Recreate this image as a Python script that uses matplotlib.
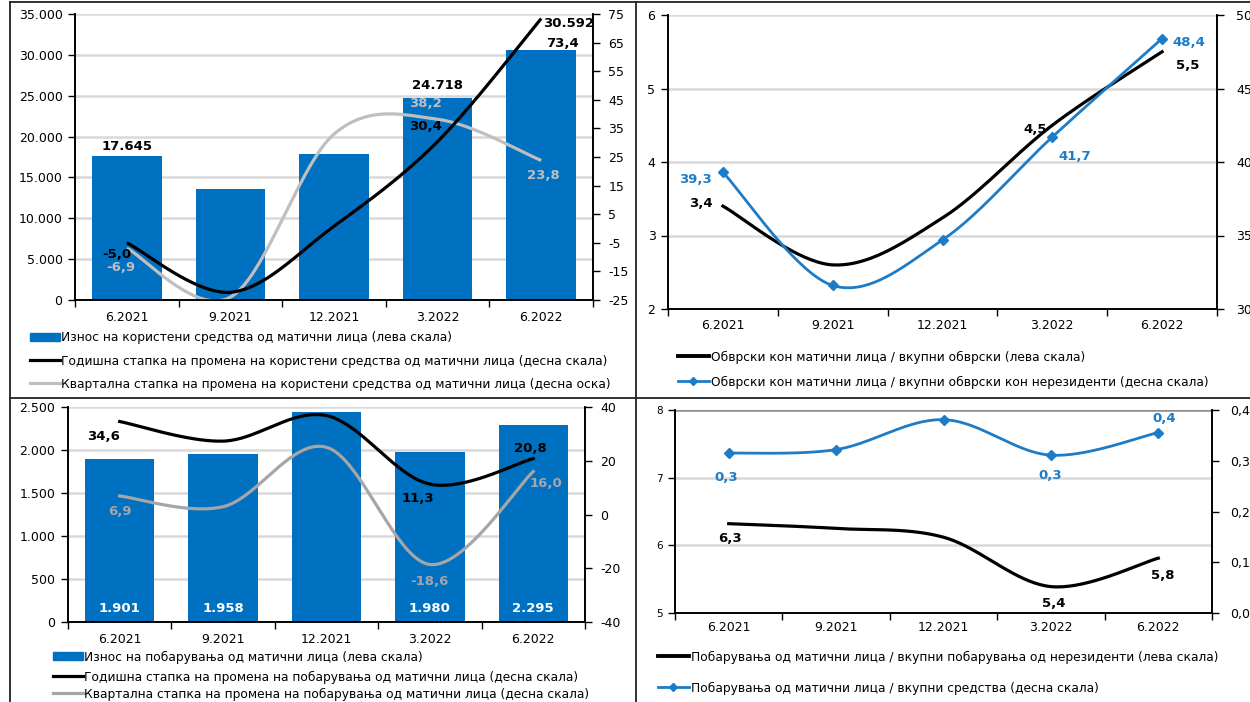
import numpy as np
import matplotlib
matplotlib.use("Agg")
import matplotlib.pyplot as plt
from matplotlib.lines import Line2D
from matplotlib.patches import Patch

plt.rcParams['font.family'] = ['DejaVu Sans']

# ---------------- data ----------------
periods = ["6.2021", "9.2021", "12.2021", "3.2022", "6.2022"]

# Panel 1: funds used from parent entities
used_amount = [17645, 13550, 17830, 24718, 30592]
used_annual = [-5.0, -22.3, 0.8, 30.4, 73.4]
used_quarterly = [-6.9, -24.0, 33.0, 38.2, 23.8]

# Panel 2: liabilities to parent entities
liab_share_total = [3.4, 2.6, 3.24, 4.5, 5.5]
liab_share_nonres = [39.3, 31.6, 34.7, 41.7, 48.4]

# Panel 3: claims on parent entities
claims_amount = [1901, 1958, 2440, 1980, 2295]
claims_annual = [34.6, 27.3, 36.8, 11.3, 20.8]
claims_quarterly = [6.9, 2.9, 25.0, -18.6, 16.0]

# Panel 4: claims shares
claims_share_nonres = [6.32, 6.25, 6.12, 5.39, 5.81]
claims_share_assets = [0.315, 0.322, 0.381, 0.311, 0.3555]

legend1 = ["Износ на користени средства од матични лица (лева скала)",
           "Годишна стапка на промена на користени средства од матични лица (десна скала)",
           "Квартална стапка на промена на користени средства од матични лица (десна оска)"]
legend2 = ["Обврски кон матични лица / вкупни обврски (лева скала)",
           "Обврски кон матични лица / вкупни обврски кон нерезиденти (десна скала)"]
legend3 = ["Износ на побарувања од матични лица (лева скала)",
           "Годишна стапка на промена на побарувања од матични лица (десна скала)",
           "Квартална стапка на промена на побарувања од матични лица (десна скала)"]
legend4 = ["Побарувања од матични лица / вкупни побарувања од нерезиденти (лева скала)",
           "Побарувања од матични лица / вкупни средства (десна скала)"]

# ---------------- style ----------------
W, H = 1250, 702
BLUE = "#0070C0"
LBLUE = "#1C7CC7"
GREY1 = "#BFBFBF"
GREY2 = "#A6A6A6"
GRID = "#D9D9D9"
FS = 9.0
LFS = 8.85

fig = plt.figure(figsize=(W / 100, H / 100), dpi=100)


def rect(l, t, r, b):
    return [l / W, 1 - b / H, (r - l) / W, (b - t) / H]


def smooth(vals, n=40):
    """Excel-style smoothed line through the points (cubic Bezier segments)."""
    pts = np.column_stack([np.arange(len(vals), dtype=float), np.asarray(vals, float)])
    out = []
    t = np.linspace(0, 1, n)[:, None]
    for i in range(len(pts) - 1):
        p0 = pts[max(i - 1, 0)]
        p1 = pts[i]
        p2 = pts[i + 1]
        p3 = pts[min(i + 2, len(pts) - 1)]
        c1 = p1 + (p2 - p0) / 6
        c2 = p2 - (p3 - p1) / 6
        seg = (1 - t) ** 3 * p1 + 3 * (1 - t) ** 2 * t * c1 + 3 * (1 - t) * t ** 2 * c2 + t ** 3 * p2
        out.append(seg if i == 0 else seg[1:])
    s = np.vstack(out)
    return s[:, 0], s[:, 1]


def fmt1(v):
    return f"{v:.1f}".replace(".", ",")


def fmt_th(v):
    return f"{v:,.0f}".replace(",", ".")


def label(ax, i, v, text, dx, dy, color):
    # dx, dy in pixels; positive dy moves the label downwards
    ax.annotate(text, xy=(i, v), xytext=(dx, -dy), textcoords="offset pixels",
                ha="center", va="center", fontsize=FS + 0.5, fontweight="bold",
                color=color, zorder=10)


def style_axes(ax, ax2, left_fmt, right_fmt, ylim, ylim2, lticks, rticks,
               lfs=FS, xpad=9, rpad=6):
    ax.set_xlim(-0.5, 4.5)
    ax.set_ylim(*ylim)
    ax2.set_ylim(*ylim2)
    ax.set_yticks(lticks)
    ax.set_yticklabels([left_fmt(v) for v in lticks], fontsize=lfs)
    ax2.set_yticks(rticks)
    ax2.set_yticklabels([right_fmt(v) for v in rticks], fontsize=FS)
    ax.set_xticks(range(5))
    ax.set_xticklabels(periods, fontsize=FS)
    ax.set_xticks(np.arange(-0.5, 5, 1), minor=True)
    ax.tick_params(axis="x", which="major", length=0, pad=xpad)
    ax.tick_params(axis="x", which="minor", length=5, width=1, direction="out")
    ax.tick_params(axis="y", length=5, width=1, direction="out", pad=4)
    ax2.tick_params(axis="y", length=5, width=1, direction="out", pad=rpad)
    ax.yaxis.grid(True, color=GRID, lw=1.8)
    ax.set_axisbelow(True)
    for a in (ax, ax2):
        a.spines["top"].set_visible(False)
        for s in ("left", "right", "bottom"):
            a.spines[s].set_color("black")
            a.spines[s].set_linewidth(1.2)
    ax.patch.set_visible(False)


def legend_entry(handle, text, x, y, hl=2.4):
    fig.legend([handle], [text], loc="center left",
               bbox_to_anchor=(x / W, 1 - y / H), bbox_transform=fig.transFigure,
               frameon=False, fontsize=LFS, handlelength=hl, handleheight=0.6,
               handletextpad=0.15, borderpad=0, borderaxespad=0)


x = np.arange(5)

# ---------------- panel 1 ----------------
ax1 = fig.add_axes(rect(75, 14, 593, 300))
ax1b = ax1.twinx()
ax1.bar(x, used_amount, width=0.67, color=BLUE, zorder=2)
ax1b.plot(*smooth(used_quarterly), color=GREY1, lw=2.3, solid_capstyle="butt")
ax1b.plot(*smooth(used_annual), color="black", lw=2.3, solid_capstyle="butt")
style_axes(ax1, ax1b, fmt_th, lambda v: f"{v:d}", (0, 35000), (-25, 75),
           list(range(0, 35001, 5000)), list(range(-25, 76, 10)), xpad=8)
for i, dx, dy in [(0, 0, -9), (3, 0, -13), (4, 27, -27)]:
    label(ax1, i, used_amount[i], fmt_th(used_amount[i]), dx, dy, "black")
for i, dx, dy in [(0, -10, 12), (3, -12, -15), (4, 21, 25)]:
    label(ax1b, i, used_annual[i], fmt1(used_annual[i]), dx, dy, "black")
for i, dx, dy in [(0, -6, 19), (3, -12, -16), (4, 2, 15)]:
    label(ax1b, i, used_quarterly[i], fmt1(used_quarterly[i]), dx, dy, GREY1)

legend_entry(Patch(color=BLUE), legend1[0], 30, 338)
legend_entry(Line2D([], [], color="black", lw=2.3), legend1[1], 30, 361)
legend_entry(Line2D([], [], color=GREY1, lw=2.3), legend1[2], 30, 384)

# ---------------- panel 2 ----------------
ax2 = fig.add_axes(rect(668, 15, 1217, 309))
ax2b = ax2.twinx()
ax2.plot(*smooth(liab_share_total), color="black", lw=2.3)
ax2b.plot(*smooth(liab_share_nonres), color=LBLUE, lw=2.0)
ax2b.plot(x, liab_share_nonres, ls="none", marker="D", ms=5, color=LBLUE)
style_axes(ax2, ax2b, lambda v: f"{v:d}", lambda v: f"{v:d}", (2, 6), (30, 50),
           [2, 3, 4, 5, 6], [30, 35, 40, 45, 50], xpad=7, rpad=9)
for i, dx, dy in [(0, -22, -3), (3, -17, 4), (4, 26, 14)]:
    label(ax2, i, liab_share_total[i], fmt1(liab_share_total[i]), dx, dy, "black")
for i, dx, dy in [(0, -27, 7), (3, 22, 19), (4, 27, 4)]:
    label(ax2b, i, liab_share_nonres[i], fmt1(liab_share_nonres[i]), dx, dy, LBLUE)

legend_entry(Line2D([], [], color="black", lw=2.8), legend2[0], 678, 357, hl=2.5)
legend_entry(Line2D([], [], color=LBLUE, lw=2.0, marker="D", ms=4), legend2[1], 678, 382, hl=2.5)

# ---------------- panel 3 ----------------
ax3 = fig.add_axes(rect(68, 407, 585, 622))
ax3b = ax3.twinx()
ax3.bar(x, claims_amount, width=0.67, color=BLUE, zorder=2)
ax3b.plot(*smooth(claims_quarterly), color=GREY2, lw=2.3)
ax3b.plot(*smooth(claims_annual), color="black", lw=2.3)
style_axes(ax3, ax3b, fmt_th, lambda v: f"{v:d}", (0, 2500), (-40, 40),
           list(range(0, 2501, 500)), [-40, -20, 0, 20, 40], xpad=8)
for i in [0, 1, 3, 4]:
    ax3.annotate(fmt_th(claims_amount[i]), xy=(i, 0), xytext=(0, 13),
                 textcoords="offset pixels", ha="center", va="center",
                 fontsize=FS + 0.5, fontweight="bold", color="white", zorder=10)
for i, dx, dy in [(0, -16, 15), (3, -12, 14), (4, -3, -10)]:
    label(ax3b, i, claims_annual[i], fmt1(claims_annual[i]), dx, dy, "black")
for i, dx, dy in [(0, 0, 16), (3, 0, 17), (4, 13, 12)]:
    label(ax3b, i, claims_quarterly[i], fmt1(claims_quarterly[i]), dx, dy, GREY2)

legend_entry(Patch(color=BLUE), legend3[0], 53, 657)
legend_entry(Line2D([], [], color="black", lw=2.3), legend3[1], 53, 677)
legend_entry(Line2D([], [], color=GREY2, lw=2.3), legend3[2], 53, 694)

# ---------------- panel 4 ----------------
ax4 = fig.add_axes(rect(675, 410, 1212, 613))
ax4b = ax4.twinx()
ax4.plot(*smooth(claims_share_nonres), color="black", lw=2.3)
ax4b.plot(*smooth(claims_share_assets), color=LBLUE, lw=2.0)
ax4b.plot(x, claims_share_assets, ls="none", marker="D", ms=5, color=LBLUE)
style_axes(ax4, ax4b, lambda v: f"{v:d}", fmt1, (5, 8), (0, 0.4),
           [5, 6, 7, 8], [0.0, 0.1, 0.2, 0.3, 0.4], lfs=7.5, xpad=6, rpad=8)
ax4.yaxis.get_gridlines()[-1].set_color("#8C8C8C")
for i, dx, dy in [(0, 1, 15), (3, 3, 17), (4, 4, 17)]:
    label(ax4, i, claims_share_nonres[i], fmt1(claims_share_nonres[i]), dx, dy, "black")
for i, dx, dy in [(0, -3, 24), (3, -1, 20), (4, 6, -14)]:
    label(ax4b, i, claims_share_assets[i], fmt1(claims_share_assets[i]), dx, dy, LBLUE)

legend_entry(Line2D([], [], color="black", lw=2.8), legend4[0], 658, 657, hl=2.5)
legend_entry(Line2D([], [], color=LBLUE, lw=2.0, marker="D", ms=4), legend4[1], 658, 688, hl=2.5)

# ---------------- panel frames ----------------
for xs, ys in [((10, 10), (2, 702)), ((10, 1250), (2, 2)), ((636, 636), (2, 702)),
               ((10, 1250), (398, 398))]:
    fig.add_artist(Line2D([v / W for v in xs], [1 - v / H for v in ys],
                          transform=fig.transFigure, color="#222222", lw=1.3))

fig.savefig("out.png", dpi=100)
